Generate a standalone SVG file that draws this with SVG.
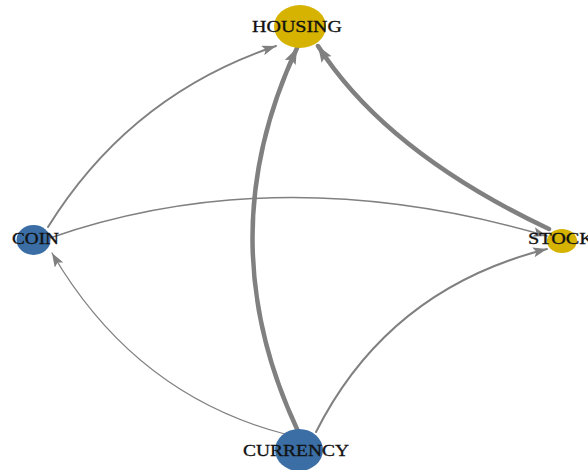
<svg xmlns="http://www.w3.org/2000/svg" width="588" height="470" viewBox="0 0 588 470">
<defs>
<style>
.e{fill:none;stroke:#808080;stroke-linecap:round}
.blue{fill:#3a6ea5}
.yel{fill:#d6b300}
.t{font-family:"Liberation Serif","Times New Roman",serif;font-size:16px;fill:#111;stroke:#111;stroke-width:0.3;text-anchor:start}
</style>
<marker id="a" markerUnits="userSpaceOnUse" markerWidth="15" markerHeight="10" refX="14" refY="5" orient="auto">
<path d="M0,0 L14,5 L0,10 L3,5 z" fill="#808080"/>
</marker>
<marker id="b" markerUnits="userSpaceOnUse" markerWidth="17" markerHeight="12" refX="16" refY="6" orient="auto">
<path d="M0,0 L16,6 L0,12 L3,6 z" fill="#808080"/>
</marker>
</defs>
<rect width="588" height="470" fill="#ffffff"/>
<g id="edges">
<path class="e" d="M48,227 Q130,95 276,46" stroke-width="2" marker-end="url(#a)"/>
<path class="e" d="M50,238 Q280,158 547,236" stroke-width="1.5" marker-end="url(#a)"/>
<path class="e" d="M285,434 Q135,395 52,253" stroke-width="1.2" marker-end="url(#a)"/>
<path class="e" d="M297,429 Q208,238 297,48" stroke-width="4.5" marker-end="url(#b)"/>
<path class="e" d="M316,432 Q388,289 547,249" stroke-width="2" marker-end="url(#a)"/>
<path class="e" d="M549,229 Q386,152 318,46" stroke-width="4.5" marker-end="url(#b)"/>
</g>
<g id="node-housing">
<ellipse class="yel" cx="300" cy="26.5" rx="26" ry="21.5"/>
<text class="t" x="252" y="32" textLength="90" lengthAdjust="spacingAndGlyphs">HOUSING</text>
</g>
<g id="node-coin">
<ellipse class="blue" cx="33.5" cy="240" rx="17" ry="15"/>
<text class="t" x="12" y="244" textLength="47" lengthAdjust="spacingAndGlyphs">COIN</text>
</g>
<g id="node-stock">
<ellipse class="yel" cx="562" cy="241" rx="15" ry="12"/>
<text class="t" x="528" y="244" textLength="66" lengthAdjust="spacingAndGlyphs">STOCK</text>
</g>
<g id="node-currency">
<ellipse class="blue" cx="299" cy="450" rx="24" ry="21"/>
<text class="t" x="243" y="456" textLength="106" lengthAdjust="spacingAndGlyphs">CURRENCY</text>
</g>
</svg>
